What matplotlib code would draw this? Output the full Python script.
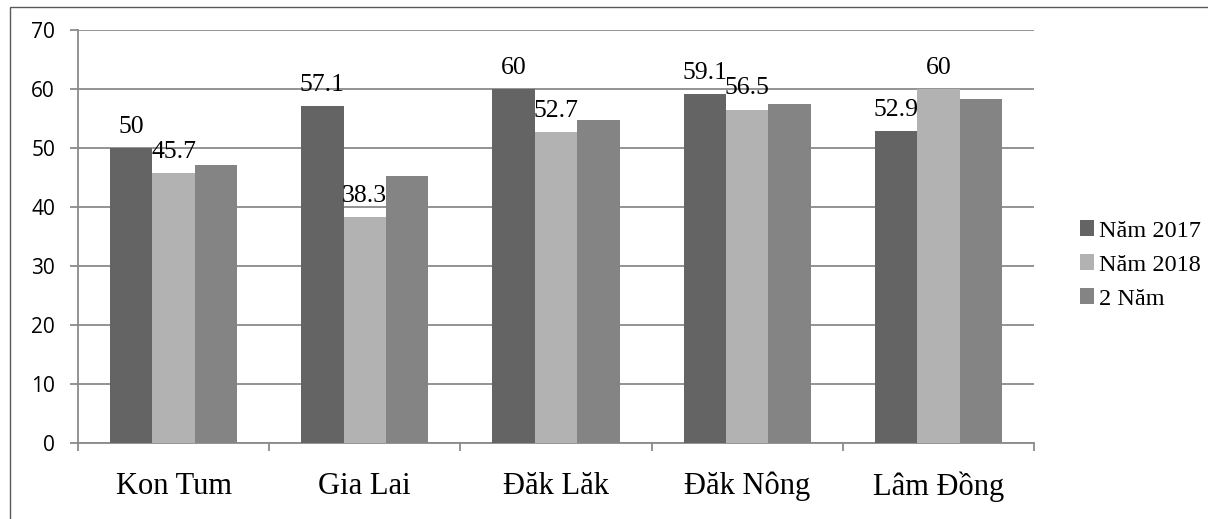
import numpy as np
import matplotlib
matplotlib.use("Agg")
import matplotlib.pyplot as plt
from matplotlib.patches import Rectangle, Patch

# Data
provinces = ["Kon Tum", "Gia Lai", "Đăk Lăk", "Đăk Nông", "Lâm Đồng"]
series_names = ["Năm 2017", "Năm 2018", "2 Năm"]
nam_2017 = [50, 57.1, 60, 59.1, 52.9]
nam_2018 = [45.7, 38.3, 52.7, 56.5, 60]
hai_nam = [47.1, 45.3, 54.8, 57.4, 58.3]
y_ticks = [0, 10, 20, 30, 40, 50, 60, 70]

colors = ["#646464", "#b2b2b2", "#848484"]
grid_color = "#8a8a8a"
serif = ["Liberation Serif", "DejaVu Serif"]

W, H, DPI = 1208, 519, 100
fig = plt.figure(figsize=(W / DPI, H / DPI), dpi=DPI)

# Plot area in pixel coordinates
left_px, right_px, top_px, bottom_px = 78, 1034, 30, 442.7
ax = fig.add_axes([left_px / W, 1 - bottom_px / H,
                   (right_px - left_px) / W, (bottom_px - top_px) / H])

n = len(provinces)
x = np.arange(n)
bar_w = 0.222
all_series = [nam_2017, nam_2018, hai_nam]
for i, (vals, c, name) in enumerate(zip(all_series, colors, series_names)):
    pos = x + (i - 1) * bar_w
    ax.bar(pos, vals, width=bar_w, color=c, edgecolor="none", label=name, zorder=3)
    if i < 2:
        for px_, v in zip(pos, vals):
            ax.annotate(f"{v:g}", (px_, v), xytext=(0, 11), textcoords="offset points",
                        ha="center", va="baseline", fontsize=18.5, family=serif,
                        color="black", zorder=4)

ax.set_xlim(-0.5, n - 0.5)
ax.set_ylim(0, 70)

# Gridlines and value axis
ax.set_yticks(y_ticks)
ax.set_yticklabels([str(t) for t in y_ticks], family="Open Sans", fontsize=15)
ax.yaxis.grid(True, color=grid_color, linewidth=1.3, zorder=0)
ax.set_axisbelow(True)
ax.tick_params(axis="y", length=5.5, width=1.3, color=grid_color, pad=11,
               labelcolor="black")

# Category labels at centres, tick marks at category boundaries
ax.set_xticks(x)
ax.set_xticklabels(provinces, family=serif, fontsize=22)
ax.tick_params(axis="x", which="major", length=0, pad=21)
ax.set_xticks(np.arange(-0.5, n, 1.0), minor=True)
ax.tick_params(axis="x", which="minor", length=6, width=1.3, color=grid_color)

for s in ["top", "right"]:
    ax.spines[s].set_visible(False)
for s in ["left", "bottom"]:
    ax.spines[s].set_color(grid_color)
    ax.spines[s].set_linewidth(1.3)

# Legend
handles = [Patch(facecolor=c, edgecolor="none") for c in colors]
leg = fig.legend(handles, series_names, loc="center left",
                 bbox_to_anchor=(1070 / W, 1 - 265 / H), frameon=False,
                 prop={"family": serif, "size": 17.5}, handlelength=0.6,
                 handleheight=0.6, handletextpad=0.2, labelspacing=0.52,
                 borderaxespad=0)

# Outer chart border (left and top edges visible)
fig.patches.append(Rectangle((10 / W, -0.1), 1.2, 1 - 7 / H + 0.1,
                             transform=fig.transFigure, fill=False,
                             edgecolor="#5a5a5a", linewidth=1.0))

fig.savefig("out.png", dpi=DPI)
